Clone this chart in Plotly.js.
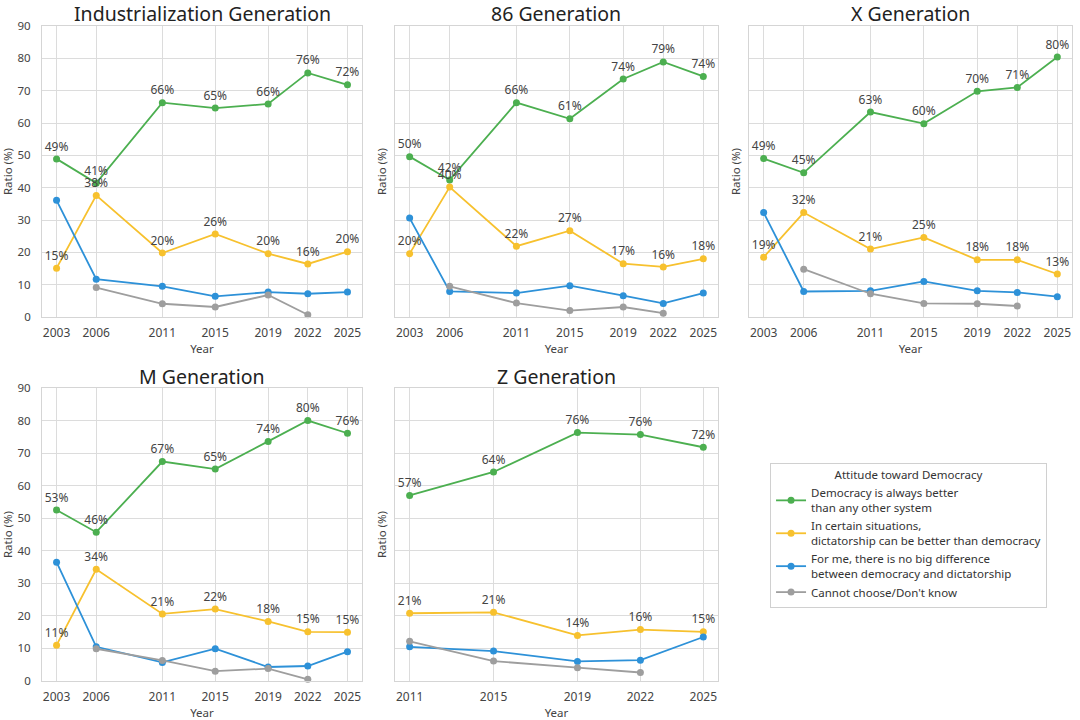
<!DOCTYPE html>
<html>
<head>
<meta charset="utf-8">
<script src="https://cdn.plot.ly/plotly-3.0.1.min.js"></script>
<style>
body { margin: 0; background: #fff; }
#graph { width: 1080px; height: 720px; }
</style>
</head>
<body>
<div id="graph"></div>
<script>
var panelTitles = ["Industrialization Generation", "86 Generation", "X Generation", "M Generation", "Z Generation"];
var seriesNames = [
    "Democracy is always better<br>than any other system",
    "In certain situations,<br>dictatorship can be better than democracy",
    "For me, there is no big difference<br>between democracy and dictatorship",
    "Cannot choose/Don't know"
];
var colors = ["#4CAF50", "#F7C12E", "#2D91D8", "#9E9E9E"];

var yearsOld = [2003, 2006, 2011, 2015, 2019, 2022, 2025];
var yearsOldGray = [2006, 2011, 2015, 2019, 2022];
var yearsZ = [2011, 2015, 2019, 2022, 2025];
var yearsZGray = [2011, 2015, 2019, 2022];

// Industrialization Generation
var indGreen = [48.9, 41.4, 66.3, 64.6, 65.9, 75.5, 71.8];
var indYellow = [15.1, 37.6, 19.8, 25.7, 19.6, 16.4, 20.2];
var indBlue = [36.1, 11.7, 9.5, 6.4, 7.7, 7.2, 7.7];
var indGray = [9.1, 4.1, 3.1, 6.8, 0.7];

// 86 Generation
var g86Green = [49.6, 42.4, 66.3, 61.3, 73.6, 78.9, 74.4];
var g86Yellow = [19.6, 40.2, 21.9, 26.7, 16.5, 15.5, 18.0];
var g86Blue = [30.6, 7.9, 7.4, 9.7, 6.6, 4.2, 7.4];
var g86Gray = [9.5, 4.3, 2.0, 3.1, 1.2];

// X Generation
var xGreen = [49.0, 44.6, 63.4, 59.8, 69.8, 71.0, 80.4];
var xYellow = [18.5, 32.3, 21.0, 24.6, 17.7, 17.7, 13.3];
var xBlue = [32.3, 7.9, 8.1, 11.0, 8.1, 7.6, 6.3];
var xGray = [14.8, 7.2, 4.2, 4.1, 3.4];

// M Generation
var mGreen = [52.5, 45.7, 67.4, 65.1, 73.6, 80.0, 76.1];
var mYellow = [11.0, 34.3, 20.6, 22.1, 18.3, 15.1, 15.0];
var mBlue = [36.5, 10.5, 5.7, 9.9, 4.3, 4.6, 9.0];
var mGray = [9.9, 6.3, 3.0, 3.8, 0.5];

// Z Generation
var zGreen = [57.0, 64.2, 76.3, 75.7, 71.8];
var zYellow = [20.8, 21.1, 14.0, 15.8, 15.1];
var zBlue = [10.5, 9.2, 6.0, 6.4, 13.5];
var zGray = [12.2, 6.1, 4.1, 2.6];

var panels = [
    {x: yearsOld, xg: yearsOldGray, s: [indGreen, indYellow, indBlue, indGray]},
    {x: yearsOld, xg: yearsOldGray, s: [g86Green, g86Yellow, g86Blue, g86Gray]},
    {x: yearsOld, xg: yearsOldGray, s: [xGreen, xYellow, xBlue, xGray]},
    {x: yearsOld, xg: yearsOldGray, s: [mGreen, mYellow, mBlue, mGray]},
    {x: yearsZ, xg: yearsZGray, s: [zGreen, zYellow, zBlue, zGray]}
];

var xDomains = [[0.0389, 0.3352], [0.3657, 0.6648], [0.6935, 0.9926], [0.0389, 0.3352], [0.3657, 0.6648]];
var yDomains = [[0.5597, 0.9639], [0.5597, 0.9639], [0.5597, 0.9639], [0.0542, 0.4611], [0.0542, 0.4611]];
var titleY = [0.9806, 0.9806, 0.9806, 0.4764, 0.4764];

var font = "Noto Sans, DejaVu Sans, sans-serif";
var traces = [];
var layout = {
    width: 1080,
    height: 720,
    margin: {l: 0, r: 0, t: 0, b: 0},
    paper_bgcolor: "#ffffff",
    plot_bgcolor: "#ffffff",
    font: {family: font, color: "#444", size: 11},
    annotations: [],
    legend: {
        x: 0.713, y: 0.357, xanchor: "left", yanchor: "top",
        bordercolor: "#d0d0d0", borderwidth: 1, bgcolor: "#fff",
        font: {size: 11.5, color: "#333"},
        title: {text: "Attitude toward Democracy", side: "top center", font: {size: 11.5, color: "#333"}},
        tracegroupgap: 0,
        itemwidth: 30
    }
};

for (var p = 0; p < panels.length; p++) {
    var suffix = p == 0 ? "" : String(p + 1);
    var panel = panels[p];
    for (var k = 0; k < 4; k++) {
        var xs = k == 3 ? panel.xg : panel.x;
        var labelled = k < 2;
        traces.push({
            x: xs,
            y: panel.s[k],
            xaxis: "x" + suffix,
            yaxis: "y" + suffix,
            name: seriesNames[k],
            legendgroup: "g" + k,
            showlegend: p == 0,
            mode: labelled ? "lines+markers+text" : "lines+markers",
            line: {color: colors[k], width: 1.8},
            marker: {color: colors[k], size: 7},
            text: labelled ? panel.s[k].map(function(v){ return Math.round(v) + "%"; }) : undefined,
            textposition: "top center",
            textfont: {size: 12, color: "#444"},
            cliponaxis: false,
            hoverinfo: "x+y"
        });
    }
    var first = panel.x[0], last = panel.x[panel.x.length - 1];
    var pad = (last - first) * 0.05;
    layout["xaxis" + suffix] = {
        domain: xDomains[p],
        anchor: "y" + suffix,
        range: [first - pad, last + pad],
        tickvals: panel.x,
        ticks: "",
        ticklabelstandoff: 5,
        showgrid: true,
        gridcolor: "#dcdcdc",
        zeroline: false,
        showline: true,
        mirror: true,
        linecolor: "#d5d5d5",
        tickfont: {size: 12, color: "#444"},
        title: {text: "Year", font: {size: 11.5, color: "#444"}, standoff: 3}
    };
    var showY = (p == 0 || p == 3);
    layout["yaxis" + suffix] = {
        domain: yDomains[p],
        anchor: "x" + suffix,
        range: [0, 90],
        dtick: 10,
        ticks: "",
        ticklabelstandoff: 8,
        showticklabels: showY,
        showgrid: true,
        gridcolor: "#dcdcdc",
        zeroline: false,
        showline: true,
        mirror: true,
        linecolor: "#d5d5d5",
        tickfont: {size: 11.5, color: "#444"},
        title: {text: "Ratio (%)", font: {size: 11.5, color: "#444"}, standoff: showY ? 6 : 4}
    };
    layout.annotations.push({
        text: panelTitles[p],
        xref: "paper", yref: "paper",
        x: (xDomains[p][0] + xDomains[p][1]) / 2,
        y: titleY[p],
        xanchor: "center", yanchor: "middle",
        showarrow: false,
        font: {size: 19.5, color: "#222"}
    });
}

Plotly.newPlot("graph", traces, layout, {displayModeBar: false, staticPlot: true});
</script>
</body>
</html>
